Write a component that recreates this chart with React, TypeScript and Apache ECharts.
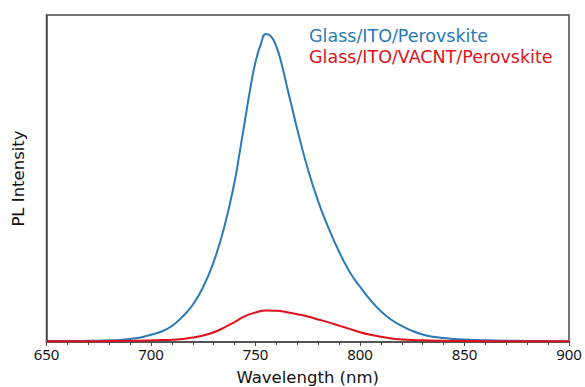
import React, { useEffect, useRef } from "react";
import * as echarts from "echarts";

const seriesNames = ["Glass/ITO/Perovskite", "Glass/ITO/VACNT/Perovskite"];
const seriesColors = ["#2a7ab9", "#e0101a"];

const blueX = [650, 655, 660, 665, 670, 675, 680, 685, 690, 695, 700, 705, 710, 715, 720, 725, 730, 735, 740, 742.5, 745, 747.5, 750, 752.5, 755, 757.5, 760, 762.5, 765, 767.5, 770, 775, 780, 785, 790, 795, 800, 805, 810, 815, 820, 825, 830, 835, 840, 845, 850, 855, 860, 870, 880, 890, 900];
const blueY = [0.3, 0.3, 0.3, 0.32, 0.35, 0.4, 0.5, 0.65, 0.95, 1.4, 2.2, 3.2, 4.9, 7.7, 11.4, 16.9, 24.5, 35.0, 49.0, 58.3, 67.9, 77.5, 85.6, 91.0, 94.2, 93.4, 90.3, 85.0, 78.2, 71.6, 65.0, 53.0, 43.0, 34.8, 27.6, 21.5, 16.9, 12.8, 9.4, 6.8, 4.9, 3.4, 2.3, 1.6, 1.2, 0.95, 0.75, 0.6, 0.5, 0.4, 0.33, 0.28, 0.25];

const redX = [650, 660, 670, 680, 690, 695, 700, 705, 710, 715, 720, 725, 730, 735, 740, 745, 750, 755, 760, 765, 770, 775, 780, 785, 790, 795, 800, 805, 810, 815, 820, 825, 830, 840, 850, 860, 880, 900];
const redY = [0.25, 0.25, 0.25, 0.28, 0.35, 0.42, 0.5, 0.6, 0.7, 0.95, 1.35, 2.0, 3.0, 4.4, 6.1, 7.9, 9.0, 9.65, 9.55, 9.1, 8.5, 7.8, 6.9, 6.0, 5.0, 4.0, 3.0, 2.2, 1.6, 1.1, 0.8, 0.6, 0.5, 0.35, 0.3, 0.25, 0.22, 0.2];

const xTicks = [650, 700, 750, 800, 850, 900];

const TICK_FONT = "Noto Sans";
const TEXT_FONT = "DejaVu Sans";

export default function App() {
  const ref = useRef<HTMLDivElement>(null);
  useEffect(() => {
    if (!ref.current) return;
    const chart = echarts.init(ref.current, null, { renderer: "svg" });
    const axisColor = "#4a4a4a";
    chart.setOption({
      animation: false,
      backgroundColor: "#ffffff",
      grid: {
        left: 46.5,
        right: 16,
        top: 15,
        bottom: 45,
        show: true,
        borderColor: axisColor,
        borderWidth: 1.5,
        containLabel: false,
        outerBoundsMode: "none",
      },
      legend: {
        orient: "vertical",
        left: 304,
        top: 27,
        padding: 0,
        icon: "none",
        itemWidth: 0,
        itemHeight: 0,
        itemGap: 2.5,
        selectedMode: false,
        data: seriesNames.map((n, i) => ({
          name: n,
          textStyle: { color: seriesColors[i], fontSize: 17.5, fontFamily: TEXT_FONT },
        })),
      },
      xAxis: {
        type: "value",
        min: xTicks[0],
        max: xTicks[xTicks.length - 1],
        interval: 50,
        name: "Wavelength (nm)",
        nameLocation: "middle",
        nameGap: 27,
        nameTextStyle: { fontSize: 16.5, fontFamily: TEXT_FONT, color: "#111" },
        axisLine: { lineStyle: { color: axisColor, width: 1.5 } },
        axisTick: { show: true, length: 4, lineStyle: { color: axisColor, width: 1 } },
        minorTick: { show: true, splitNumber: 5, length: 3, lineStyle: { color: axisColor, width: 1 } },
        splitLine: { show: false },
        axisLabel: { fontSize: 15, fontFamily: TICK_FONT, color: "#111", margin: 4 },
      },
      yAxis: {
        type: "value",
        min: 0,
        max: 100,
        name: "PL Intensity",
        nameLocation: "middle",
        nameGap: 20,
        nameTextStyle: { fontSize: 16.5, fontFamily: TEXT_FONT, color: "#111" },
        axisLine: { show: true, lineStyle: { color: axisColor, width: 1.5 } },
        axisTick: { show: false },
        axisLabel: { show: false },
        splitLine: { show: false },
      },
      series: [
        {
          name: seriesNames[0],
          type: "line",
          data: blueX.map((x, i) => [x, blueY[i]]),
          smooth: 0.5,
          showSymbol: false,
          lineStyle: { color: seriesColors[0], width: 2 },
          itemStyle: { color: seriesColors[0] },
          z: 2,
        },
        {
          name: seriesNames[1],
          type: "line",
          data: redX.map((x, i) => [x, redY[i]]),
          smooth: 0.5,
          showSymbol: false,
          lineStyle: { color: seriesColors[1], width: 2 },
          itemStyle: { color: seriesColors[1] },
          z: 3,
        },
      ],
    });
    return () => chart.dispose();
  }, []);
  return (
    <div
      ref={ref}
      style={{ position: "absolute", left: 0, top: 0, width: 585, height: 387 }}
    />
  );
}
